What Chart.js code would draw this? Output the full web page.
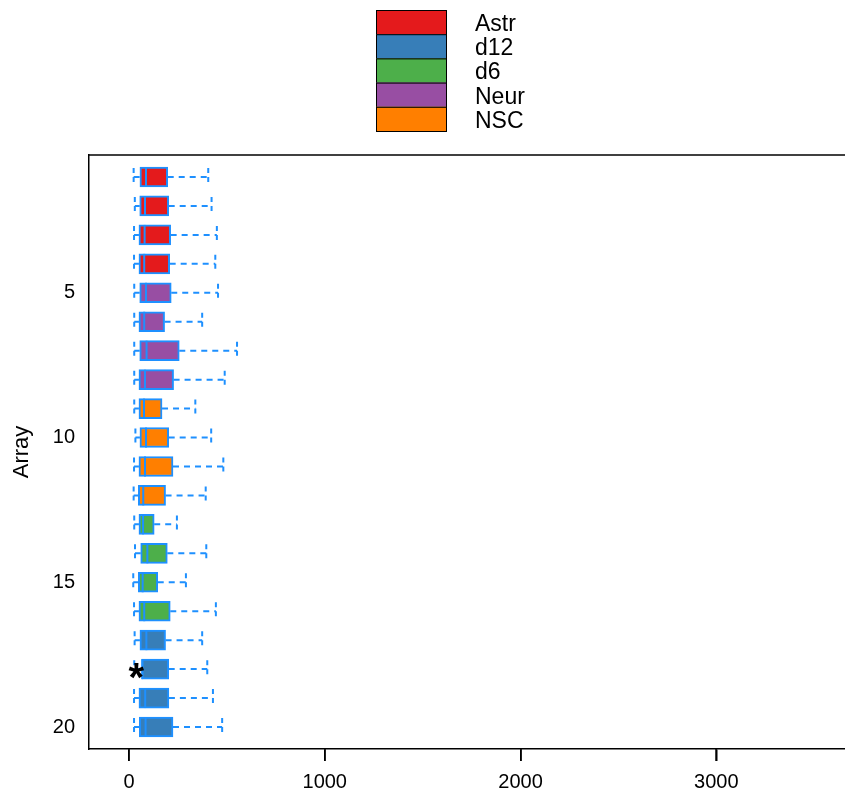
<!DOCTYPE html>
<html>
<head>
<meta charset="utf-8">
<script src="https://cdn.jsdelivr.net/npm/chart.js@4.4.0/dist/chart.umd.min.js"></script>
<style>
  html, body { margin: 0; padding: 0; background: #fff; overflow: hidden; }
  #wrap { width: 845px; height: 793px; overflow: hidden; }
</style>
</head>
<body>
<div id="wrap"><canvas id="myChart" width="857" height="793"></canvas></div>
<script>
// boxplot stats per array
const arrays = [1, 2, 3, 4, 5, 6, 7, 8, 9, 10, 11, 12, 13, 14, 15, 16, 17, 18, 19, 20];
const arrayGroup = ['Astr', 'Astr', 'Astr', 'Astr', 'Neur', 'Neur', 'Neur', 'Neur',
                    'NSC', 'NSC', 'NSC', 'NSC', 'd6', 'd6', 'd6', 'd6', 'd12', 'd12', 'd12', 'd12'];
const lowWhisker = [24, 30, 26, 26, 27, 27, 27, 27, 27, 33, 26, 24, 27, 31, 22, 26, 29, 27, 26, 26];
const q1 = [56, 55, 51, 51, 55, 51, 55, 51, 51, 56, 51, 48, 51, 60, 48, 51, 56, 65, 51, 53];
const median = [87, 82, 80, 78, 87, 78, 90, 82, 77, 87, 82, 73, 72, 94, 70, 78, 89, 68, 83, 85];
const q3 = [198, 203, 213, 208, 216, 182, 257, 228, 169, 203, 225, 187, 129, 196, 147, 211, 187, 203, 204, 225];
const highWhisker = [405, 422, 449, 441, 455, 374, 552, 489, 339, 420, 482, 392, 245, 395, 291, 444, 374, 400, 429, 476];

const groups = ['Astr', 'd12', 'd6', 'Neur', 'NSC'];
const groupColors = ['#E41A1C', '#377EB8', '#4DAF4A', '#984EA3', '#FF7F00'];

const xTicks = [0, 1000, 2000, 3000];
const yTicks = [5, 10, 15, 20];
const markedArray = 18;
const markText = '*';

const lineBlue = '#1E90FF';
const fontFamily = "'Liberation Sans', Arial, Helvetica, sans-serif";
const capHalf = 0.31;
const tickLen = 12;

function colorOf(g) {
    return groupColors[groups.indexOf(g)];
}

// whisker segments, split with NaN gaps
const whiskerData = [];
const capData = [];
arrays.forEach(function (a, i) {
    whiskerData.push({x: lowWhisker[i], y: a}, {x: q1[i], y: a}, {x: NaN, y: NaN});
    whiskerData.push({x: q3[i], y: a}, {x: highWhisker[i], y: a}, {x: NaN, y: NaN});
    capData.push({x: lowWhisker[i], y: a - capHalf}, {x: lowWhisker[i], y: a + capHalf}, {x: NaN, y: NaN});
    capData.push({x: highWhisker[i], y: a - capHalf}, {x: highWhisker[i], y: a + capHalf}, {x: NaN, y: NaN});
});

const frameAndLegend = {
    id: 'frameAndLegend',
    afterDraw: function (chart) {
        const ctx = chart.ctx;
        const area = chart.chartArea;
        const xs = chart.scales.x, ys = chart.scales.y;
        ctx.save();
        ctx.setLineDash([]);
        // top edge of the box
        ctx.strokeStyle = '#000';
        ctx.lineWidth = 1.5;
        ctx.beginPath();
        ctx.moveTo(area.left, area.top);
        ctx.lineTo(area.right, area.top);
        ctx.stroke();

        // x tick marks below the axis
        xTicks.forEach(function (v) {
            const px = Math.round(xs.getPixelForValue(v));
            ctx.beginPath();
            ctx.moveTo(px, area.bottom);
            ctx.lineTo(px, area.bottom + tickLen);
            ctx.stroke();
        });

        // asterisk on the marked array
        const mi = arrays.indexOf(markedArray);
        ctx.fillStyle = '#000';
        ctx.font = 'bold 40px ' + fontFamily;
        ctx.textAlign = 'center';
        ctx.textBaseline = 'middle';
        ctx.fillText(markText, xs.getPixelForValue(lowWhisker[mi]) + 2, ys.getPixelForValue(markedArray) + 11);

        // legend
        const bx = 376, by = 10, bw = 70, bh = 24.2;
        ctx.font = '23px ' + fontFamily;
        ctx.textAlign = 'left';
        groups.forEach(function (g, k) {
            ctx.fillStyle = groupColors[k];
            ctx.fillRect(bx, by + k * bh, bw, bh);
            ctx.strokeStyle = '#000';
            ctx.lineWidth = 1;
            ctx.strokeRect(bx + 0.5, by + k * bh + 0.5, bw, bh);
            ctx.fillStyle = '#000';
            ctx.fillText(g, 475, by + k * bh + bh / 2 + 2.5);
        });
        ctx.restore();
    }
};

const ctx = document.getElementById('myChart').getContext('2d');
const chart = new Chart(ctx, {
    type: 'scatter',
    data: {
        datasets: [{
            type: 'scatter',
            label: 'median',
            data: arrays.map((a, i) => ({x: median[i], y: a})),
            pointStyle: 'line',
            rotation: 90,
            radius: 10,
            borderColor: lineBlue,
            borderWidth: 2,
            order: 0
        }, {
            type: 'bar',
            label: 'box',
            indexAxis: 'y',
            data: arrays.map((a, i) => ({y: a, x: [q1[i], q3[i]]})),
            backgroundColor: arrayGroup.map(colorOf),
            borderColor: lineBlue,
            borderWidth: 2,
            borderSkipped: false,
            barThickness: 20,
            grouped: false,
            order: 1
        }, {
            type: 'line',
            label: 'whiskers',
            data: whiskerData,
            borderColor: lineBlue,
            borderWidth: 2,
            borderDash: [6, 5],
            pointRadius: 0,
            spanGaps: false,
            fill: false,
            order: 2
        }, {
            type: 'line',
            label: 'caps',
            data: capData,
            borderColor: lineBlue,
            borderWidth: 2,
            borderDash: [5, 4],
            pointRadius: 0,
            spanGaps: false,
            fill: false,
            order: 2
        }]
    },
    options: {
        responsive: false,
        animation: false,
        layout: {padding: {top: 155, right: 0, bottom: 0, left: 0}},
        plugins: {
            legend: {display: false},
            tooltip: {enabled: false}
        },
        scales: {
            x: {
                type: 'linear',
                offset: false,
                min: -204,
                max: 3657,
                afterBuildTicks: function (scale) {
                    scale.ticks = xTicks.map(v => ({value: v}));
                },
                afterFit: function (scale) {
                    scale.height = 44;
                },
                grid: {display: true, drawOnChartArea: false, drawTicks: true, offset: false,
                       color: '#000', tickColor: '#000', lineWidth: 1.5, tickLength: tickLen, tickWidth: 1.5},
                border: {display: true, color: '#000', width: 1.5},
                ticks: {color: '#000', padding: 9, font: {size: 20, family: fontFamily}, maxRotation: 0,
                        callback: v => String(v)}
            },
            y: {
                type: 'linear',
                offset: false,
                reverse: true,
                min: 0.24,
                max: 20.76,
                afterBuildTicks: function (scale) {
                    scale.ticks = yTicks.map(v => ({value: v}));
                },
                afterFit: function (scale) {
                    scale.width = 89;
                },
                grid: {display: false},
                border: {display: true, color: '#000', width: 1.5},
                ticks: {color: '#000', padding: 6, font: {size: 20, family: fontFamily},
                        callback: v => String(v)},
                title: {
                    display: true,
                    text: 'Array',
                    color: '#000',
                    font: {size: 22, family: fontFamily},
                    padding: {top: 9, bottom: 0}
                }
            }
        }
    },
    plugins: [frameAndLegend]
});
</script>
</body>
</html>
